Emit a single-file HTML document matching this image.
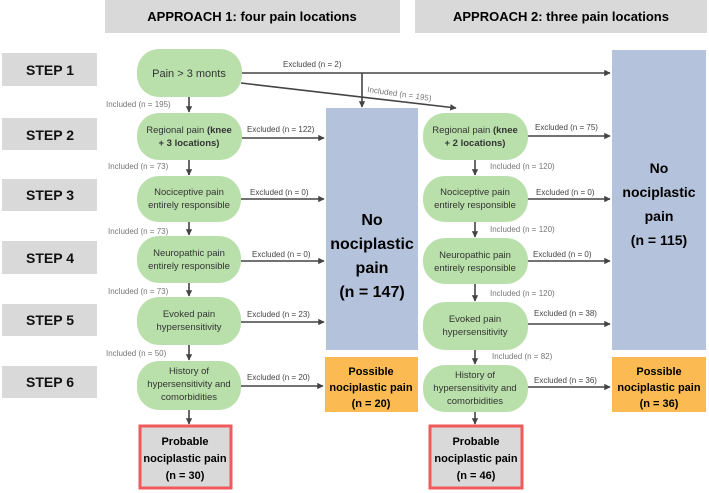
<!DOCTYPE html>
<html><head><meta charset="utf-8"><style>
body{margin:0;background:#fff}
svg{display:block;font-family:"Liberation Sans",sans-serif}
.st{font-weight:bold;font-size:14px;fill:#111}
.nd{fill:#b9e0ab}
.nt{font-size:9.5px;fill:#333}
.lb{font-size:8px;fill:#444}
.li{font-size:8px;fill:#777}
.ln{stroke:#444;stroke-width:1.6;fill:none}
</style></head><body>
<svg width="709" height="493" viewBox="0 0 709 493">
<defs><marker id="a" viewBox="0 0 10 10" refX="9" refY="5" markerWidth="4" markerHeight="4" orient="auto"><path d="M0,0L10,5L0,10z" fill="#444"/></marker></defs>
<rect x="105" y="0" width="295" height="33" fill="#d9d9d9"/>
<text x="252" y="21" text-anchor="middle" style="font-weight:bold;font-size:13px">APPROACH 1: four pain locations</text>
<rect x="415" y="0" width="292" height="33" fill="#d9d9d9"/>
<text x="561" y="21" text-anchor="middle" style="font-weight:bold;font-size:13px">APPROACH 2: three pain locations</text>
<g fill="#d9d9d9"><rect x="2" y="53" width="95" height="33"/><rect x="2" y="118" width="95" height="32"/><rect x="2" y="179" width="95" height="32"/><rect x="2" y="241" width="95" height="33"/><rect x="2" y="304" width="95" height="32"/><rect x="2" y="366" width="95" height="32"/></g>
<g class="st" text-anchor="middle"><text x="50" y="75">STEP 1</text><text x="50" y="140">STEP 2</text><text x="50" y="200">STEP 3</text><text x="50" y="263">STEP 4</text><text x="50" y="325">STEP 5</text><text x="50" y="387">STEP 6</text></g>
<!-- blue/orange -->
<rect x="326" y="108" width="92" height="242" fill="#b4c2dc"/>
<text x="372" y="225" text-anchor="middle" style="font-weight:bold;font-size:16px">No</text>
<text x="372" y="249" text-anchor="middle" style="font-weight:bold;font-size:16px">nociplastic</text>
<text x="372" y="273" text-anchor="middle" style="font-weight:bold;font-size:16px">pain</text>
<text x="372" y="297" text-anchor="middle" style="font-weight:bold;font-size:16px">(n = 147)</text>
<rect x="612" y="50" width="94" height="300" fill="#b4c2dc"/>
<text x="659" y="173" text-anchor="middle" style="font-weight:bold;font-size:14px">No</text>
<text x="659" y="197" text-anchor="middle" style="font-weight:bold;font-size:14px">nociplastic</text>
<text x="659" y="221" text-anchor="middle" style="font-weight:bold;font-size:14px">pain</text>
<text x="659" y="245" text-anchor="middle" style="font-weight:bold;font-size:14px">(n = 115)</text>
<rect x="325" y="357" width="93" height="55" fill="#fbbb52"/>
<text x="371" y="375" text-anchor="middle" style="font-weight:bold;font-size:11px">Possible</text>
<text x="371" y="391" text-anchor="middle" style="font-weight:bold;font-size:11px">nociplastic pain</text>
<text x="371" y="407" text-anchor="middle" style="font-weight:bold;font-size:11px">(n = 20)</text>
<rect x="612" y="357" width="94" height="55" fill="#fbbb52"/>
<text x="659" y="375" text-anchor="middle" style="font-weight:bold;font-size:11px">Possible</text>
<text x="659" y="391" text-anchor="middle" style="font-weight:bold;font-size:11px">nociplastic pain</text>
<text x="659" y="407" text-anchor="middle" style="font-weight:bold;font-size:11px">(n = 36)</text>
<!-- probable -->
<rect x="140" y="426" width="91" height="62" fill="#d9d9d9" stroke="#f05a5a" stroke-width="3"/>
<text x="185" y="445" text-anchor="middle" style="font-weight:bold;font-size:11px">Probable</text>
<text x="185" y="462" text-anchor="middle" style="font-weight:bold;font-size:11px">nociplastic pain</text>
<text x="185" y="479" text-anchor="middle" style="font-weight:bold;font-size:11px">(n = 30)</text>
<rect x="430" y="426" width="92" height="62" fill="#d9d9d9" stroke="#f05a5a" stroke-width="3"/>
<text x="476" y="445" text-anchor="middle" style="font-weight:bold;font-size:11px">Probable</text>
<text x="476" y="462" text-anchor="middle" style="font-weight:bold;font-size:11px">nociplastic pain</text>
<text x="476" y="479" text-anchor="middle" style="font-weight:bold;font-size:11px">(n = 46)</text>
<!-- left nodes -->
<g class="nd"><rect x="137" y="49" width="105" height="48" rx="22"/><rect x="137" y="113" width="105" height="47" rx="22"/><rect x="137" y="176" width="104" height="46" rx="22"/><rect x="137" y="236" width="104" height="47" rx="22"/><rect x="137" y="297" width="104" height="48" rx="22"/><rect x="137" y="361" width="104" height="49" rx="22"/>
<rect x="423" y="113" width="105" height="47" rx="22"/><rect x="423" y="176" width="105" height="46" rx="22"/><rect x="423" y="238" width="105" height="46" rx="22"/><rect x="423" y="302" width="105" height="48" rx="22"/><rect x="423" y="365" width="105" height="47" rx="22"/></g>
<g class="nt" text-anchor="middle">
<text x="189" y="77" style="font-size:11px">Pain &gt; 3 monts</text>
<text x="189" y="133">Regional pain <tspan font-weight="bold">(knee</tspan></text><text x="189" y="146" font-weight="bold">+ 3 locations)</text>
<text x="189" y="195">Nociceptive pain</text><text x="189" y="208">entirely responsible</text>
<text x="189" y="256">Neuropathic pain</text><text x="189" y="269">entirely responsible</text>
<text x="189" y="317">Evoked pain</text><text x="189" y="330">hypersensitivity</text>
<text x="189" y="374">History of</text><text x="189" y="387">hypersensitivity and</text><text x="189" y="400">comorbidities</text>
<text x="475" y="133">Regional pain <tspan font-weight="bold">(knee</tspan></text><text x="475" y="146" font-weight="bold">+ 2 locations)</text>
<text x="475" y="195">Nociceptive pain</text><text x="475" y="208">entirely responsible</text>
<text x="475" y="258">Neuropathic pain</text><text x="475" y="271">entirely responsible</text>
<text x="475" y="322">Evoked pain</text><text x="475" y="335">hypersensitivity</text>
<text x="475" y="378">History of</text><text x="475" y="391">hypersensitivity and</text><text x="475" y="404">comorbidities</text>
</g>
<!-- connectors -->
<g class="ln" marker-end="url(#a)">
<path d="M242 73H610"/><path d="M362 73V107"/><path d="M241 83L456 108"/>
<path d="M189 97V112"/><path d="M189 160V175"/><path d="M189 222V235"/><path d="M189 283V296"/><path d="M189 345V360"/><path d="M189 410V424"/>
<path d="M475 160V175"/><path d="M475 222V237"/><path d="M475 284V301"/><path d="M475 350V364"/><path d="M475 412V424"/>
<path d="M242 138H324"/><path d="M241 199H324"/><path d="M241 261H324"/><path d="M241 322H324"/><path d="M241 386H323"/>
<path d="M528 136H610"/><path d="M528 199H610"/><path d="M528 261H610"/><path d="M528 324H610"/><path d="M528 387H610"/>
</g>
<g class="lb">
<text x="283" y="67">Excluded (n = 2)</text>
<text x="247" y="132">Excluded (n = 122)</text><text x="250" y="195">Excluded (n = 0)</text><text x="252" y="257">Excluded (n = 0)</text><text x="247" y="317">Excluded (n = 23)</text><text x="247" y="380">Excluded (n = 20)</text>
<text x="535" y="130">Excluded (n = 75)</text><text x="536" y="195">Excluded (n = 0)</text><text x="533" y="257">Excluded (n = 0)</text><text x="534" y="316">Excluded (n = 38)</text><text x="534" y="383">Excluded (n = 36)</text>
</g>
<g class="li">
<text x="106" y="107">Included (n = 195)</text><text x="108" y="169">Included (n = 73)</text><text x="108" y="234">Included (n = 73)</text><text x="108" y="294">Included (n = 73)</text><text x="106" y="356">Included (n = 50)</text>
<text x="490" y="169">Included (n = 120)</text><text x="490" y="232">Included (n = 120)</text><text x="490" y="296">Included (n = 120)</text><text x="492" y="359">Included (n = 82)</text>
<text x="367" y="92" transform="rotate(8 367 92)">Included (n = 195)</text>
</g>
</svg>
</body></html>
